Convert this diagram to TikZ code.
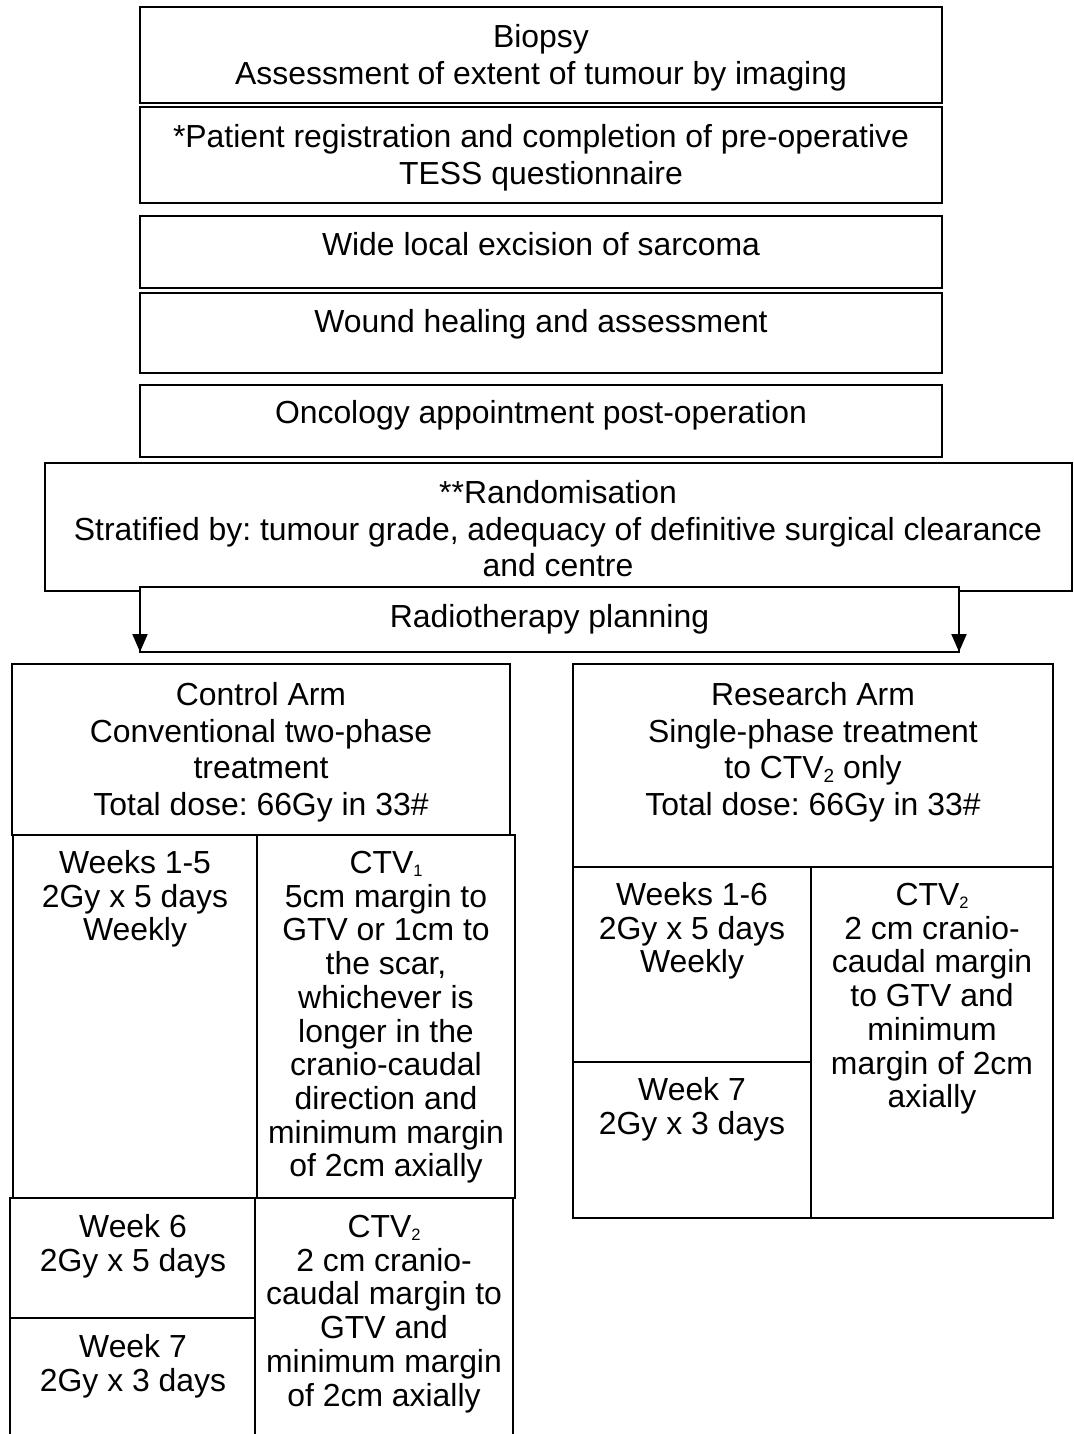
\documentclass[tikz,border=0pt]{standalone}
\usepackage{fontspec}
\setmainfont{Liberation Sans}
\usetikzlibrary{arrows.meta}
\frenchspacing
\newcommand{\hsub}[1]{\raisebox{-3.5pt}{\fontsize{19}{19}\selectfont #1}}
\newcommand{\tsub}[1]{\raisebox{-2.5pt}{\fontsize{16.5}{16.5}\selectfont #1}}
\begin{document}
\begin{tikzpicture}[x=1pt,y=-1pt,line width=2pt,
  box/.style={draw=black,rectangle,inner sep=0pt,outer sep=0pt,anchor=north west},
  wbox/.style={box,fill=white},
  txt/.style={inner sep=0pt,outer sep=0pt,align=center,anchor=north,font=\fontsize{31.9}{36.7}\selectfont},
  tbl/.style={inner sep=0pt,outer sep=0pt,align=center,anchor=north,font=\fontsize{31.9}{33.7}\selectfont},
  arr/.style={-{Triangle[length=18pt,width=15pt]},line width=2pt}]
\useasboundingbox (0,0) rectangle (1073,1434);
\fill[white] (0,0) rectangle (1073,1434);

% top boxes
\node[box,minimum width=802pt,minimum height=95.5pt] (b1) at (140,7.5) {};
\node[box,minimum width=802pt,minimum height=95.5pt] (b2) at (140,107.5) {};
\node[box,minimum width=802pt,minimum height=72pt] (b3) at (140,216) {};
\node[box,minimum width=802pt,minimum height=80pt] (b4) at (140,293) {};
\node[box,minimum width=802pt,minimum height=72pt] (b5) at (140,385) {};
\node[box,minimum width=1026.9pt,minimum height=128pt] (b6) at (44.6,463) {};
\node[wbox,minimum width=819pt,minimum height=65pt] (rt) at (140,587) {};
\draw[arr] (rt.north west) -- (rt.south west);
\draw[arr] (rt.north east) -- (rt.south east);

\node[txt] (t1) at (541,21.8) {\strut Biopsy\\Assessment of extent of tumour by imaging\strut};
\node[txt] (t2) at (541,121.8) {\strut *Patient registration and completion of pre-operative\\TESS questionnaire\strut};
\node[txt] (t3) at (541,229.8) {\strut Wide local excision of sarcoma\strut};
\node[txt] (t4) at (541,307.3) {\strut Wound healing and assessment\strut};
\node[txt] (t5) at (541,398.3) {\strut Oncology appointment post-operation\strut};
\node[txt] (t6) at (558,477.8) {\strut **Randomisation\\Stratified by: tumour grade, adequacy of definitive surgical clearance\\and centre\strut};
\node[txt] (trt) at (549.5,602.3) {\strut Radiotherapy planning\strut};

% control arm
\node[box,minimum width=498pt,minimum height=171pt] (ch) at (12,664) {};
\node[box,minimum width=244.2pt,minimum height=363pt] (c1l) at (12.8,835) {};
\node[box,minimum width=258pt,minimum height=363pt] (c1r) at (257,835) {};
\node[box,minimum width=244.6pt,minimum height=120pt] (c2a) at (10.4,1198) {};
\node[box,minimum width=244.6pt,minimum height=124pt] (c2b) at (10.4,1318) {};
\node[box,minimum width=258pt,minimum height=244pt] (c2r) at (255,1198) {};

\node[txt] (tch) at (261,679.8) {\strut Control Arm\\Conventional two-phase\\treatment\\Total dose: 66Gy in 33\#\strut};
\node[tbl] (tc1l) at (135,849.9) {\strut Weeks 1-5\\2Gy x 5 days\\Weekly\strut};
\node[tbl] (tc1r) at (386,849.9) {\strut CTV\tsub{1}\\5cm margin to\\GTV or 1cm to\\the scar,\\whichever is\\longer in the\\cranio-caudal\\direction and\\minimum margin\\of 2cm axially\strut};
\node[tbl] (tc2a) at (133,1213.9) {\strut Week 6\\2Gy x 5 days\strut};
\node[tbl] (tc2b) at (133,1333.9) {\strut Week 7\\2Gy x 3 days\strut};
\node[tbl] (tc2r) at (384,1213.9) {\strut CTV\tsub{2}\\2 cm cranio-\\caudal margin to\\GTV and\\minimum margin\\of 2cm axially\strut};

% research arm
\node[box,minimum width=480pt,minimum height=203pt] (rh) at (573,664) {};
\node[box,minimum width=238pt,minimum height=195pt] (rl1) at (573,867) {};
\node[box,minimum width=238pt,minimum height=156pt] (rl2) at (573,1062) {};
\node[box,minimum width=242pt,minimum height=351pt] (rr) at (811,867) {};

\node[txt] (trh) at (813,679.8) {\strut Research Arm\\Single-phase treatment\\to CTV\hsub{2} only\\Total dose: 66Gy in 33\#\strut};
\node[tbl] (trl1) at (692,881.9) {\strut Weeks 1-6\\2Gy x 5 days\\Weekly\strut};
\node[tbl] (trl2) at (692,1076.9) {\strut Week 7\\2Gy x 3 days\strut};
\node[tbl] (trr) at (932,881.9) {\strut CTV\tsub{2}\\2 cm cranio-\\caudal margin\\to GTV and\\minimum\\margin of 2cm\\axially\strut};
\end{tikzpicture}
\end{document}
